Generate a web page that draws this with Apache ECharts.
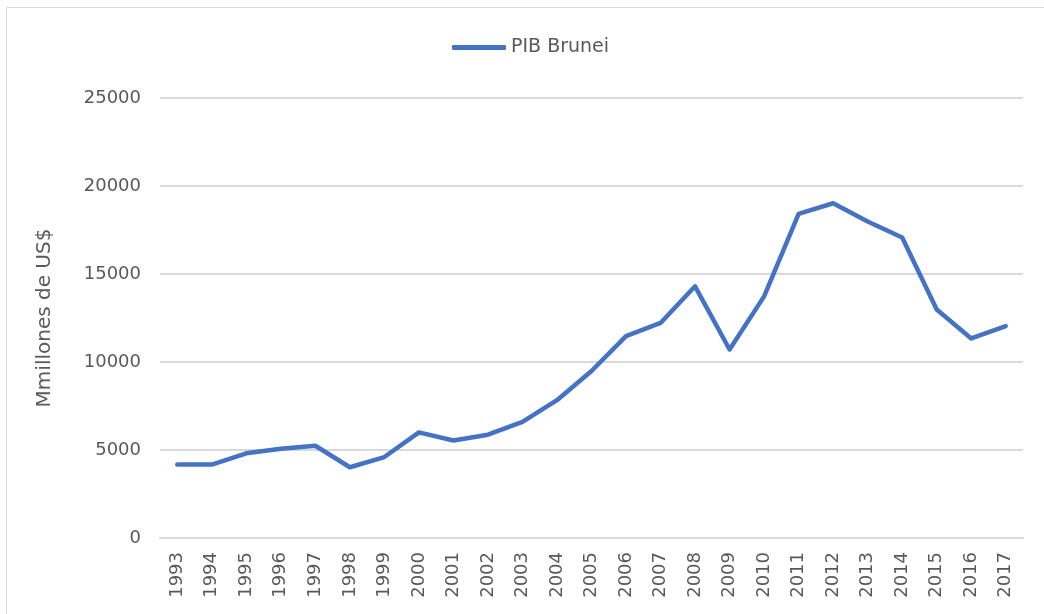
<!DOCTYPE html>
<html>
<head>
<meta charset="utf-8">
<title>PIB Brunei</title>
<script src="https://cdn.jsdelivr.net/npm/echarts@6/dist/echarts.min.js"></script>
<style>
  html, body { margin: 0; padding: 0; background: #fff; }
  #chart { width: 1044px; height: 614px; }
</style>
</head>
<body>
<div id="chart"></div>
<script>
// years on the x axis
var years = ['1993', '1994', '1995', '1996', '1997', '1998', '1999', '2000', '2001', '2002',
  '2003', '2004', '2005', '2006', '2007', '2008', '2009', '2010', '2011', '2012',
  '2013', '2014', '2015', '2016', '2017'];
// GDP, millions of US$
var pibBrunei = [4170, 4170, 4810, 5070, 5240, 4020, 4600, 6000, 5540, 5870,
  6600, 7830, 9490, 11470, 12220, 14300, 10710, 13730, 18420, 19020,
  17980, 17070, 12980, 11340, 12040];
var seriesName = 'PIB Brunei';
var yName = 'Mmillones de US$';

var gray = '#595959';
var blue = '#4472C4';
var font = 'DejaVu Sans';

var chart = echarts.init(document.getElementById('chart'));
chart.setOption({
  animation: false,
  textStyle: { fontFamily: font },
  graphic: [{
    type: 'rect',
    shape: { x: 6.5, y: 7.5, width: 1045, height: 615 },
    style: { fill: 'none', stroke: '#d9d9d9', lineWidth: 1 },
    silent: true
  }],
  legend: {
    top: 33,
    left: 447,
    icon: 'roundRect',
    itemWidth: 54,
    itemHeight: 5,
    itemGap: 10,
    itemStyle: { color: blue },
    textStyle: { color: gray, fontSize: 19, fontFamily: font },
    data: [seriesName]
  },
  grid: { left: 160, right: 21, top: 98, bottom: 76 },
  xAxis: {
    type: 'category',
    data: years,
    boundaryGap: true,
    axisLine: { show: true, lineStyle: { color: '#d9d9d9', width: 2 } },
    axisTick: { show: false },
    axisLabel: { rotate: 90, margin: 14, color: gray, fontSize: 18, fontFamily: font }
  },
  yAxis: {
    type: 'value',
    min: 0,
    max: 25000,
    interval: 5000,
    name: yName,
    nameLocation: 'middle',
    nameGap: 105,
    nameTextStyle: { color: gray, fontSize: 20, fontFamily: font },
    axisLine: { show: false },
    axisTick: { show: false },
    axisLabel: {
      margin: 19, color: gray, fontSize: 18, fontFamily: font,
      formatter: function (v) { return String(v); }
    },
    splitLine: { lineStyle: { color: '#d9d9d9', width: 2 } }
  },
  series: [{
    name: seriesName,
    type: 'line',
    data: pibBrunei,
    symbol: 'none',
    lineStyle: { color: blue, width: 4.5, cap: 'round', join: 'round' },
    itemStyle: { color: blue }
  }]
});
</script>
</body>
</html>
